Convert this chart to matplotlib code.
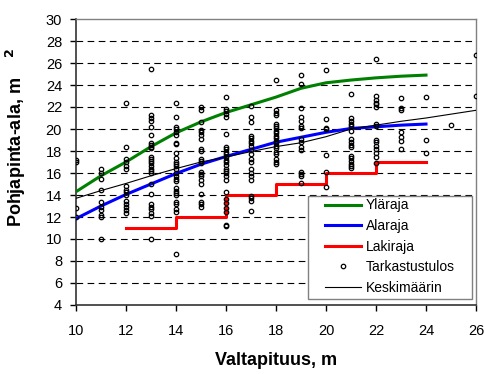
import matplotlib
matplotlib.use("Agg")
import matplotlib.pyplot as plt
from matplotlib.patches import Rectangle

plt.rcParams['font.family'] = ['Liberation Sans', 'DejaVu Sans']

# --- data ---
line_x = [10, 11, 12, 13, 14, 15, 16, 17, 18, 19, 20, 21, 22, 23, 24]
ylaraja = [14.3, 15.75, 17.0, 18.4, 19.65, 20.65, 21.5, 22.2, 22.9, 23.7, 24.2, 24.45, 24.65, 24.8, 24.9]
alaraja = [11.85, 13.0, 14.05, 15.0, 15.95, 16.8, 17.5, 18.15, 18.8, 19.25, 19.7, 20.05, 20.2, 20.35, 20.45]

laki_x = [12, 14, 16, 18, 20, 22, 24]
laki_y = [11, 12, 14, 15, 16, 17, 17]

kesk_x = [10, 11, 12, 13, 14, 15, 16, 17, 18, 19, 20, 21, 22, 23, 24, 25, 26]
kesk_y = [13.7, 14.4, 15.05, 15.75, 16.4, 17.0, 17.45, 17.95, 18.4, 18.75, 19.3, 20.0, 20.35, 20.7, 21.0, 21.35, 21.7]

obs = {
    10: [17.2, 17.0, 12.85, 12.0],
    11: [16.4, 16.0, 15.5, 14.5, 13.4, 12.9, 12.6, 12.2, 12.0, 10.0],
    12: [22.4, 18.4, 17.3, 17.0, 16.6, 16.4, 14.8, 14.5, 14.3, 14.0, 13.5, 13.2, 12.9, 12.6, 12.4],
    13: [25.5, 21.3, 21.0, 20.7, 20.2, 19.45, 18.75, 18.55, 18.4, 18.25, 17.5, 17.3, 17.1, 16.9,
         16.6, 16.4, 16.2, 16.0, 15.0, 14.05, 13.2, 12.9, 12.7, 12.4, 12.1, 10.0],
    14: [22.4, 21.1, 20.15, 20.0, 19.7, 19.5, 18.75, 18.6, 17.8, 17.4, 17.0, 16.8, 16.6, 16.4,
         16.0, 15.7, 15.5, 15.3, 14.6, 14.4, 14.15, 14.0, 13.4, 13.15, 12.7, 12.5, 8.6],
    15: [22.0, 21.7, 20.6, 19.9, 19.75, 19.45, 19.05, 18.15, 18.0, 17.3, 17.1, 16.95, 16.1, 15.9,
         15.7, 15.4, 15.0, 14.1, 13.4, 13.2, 12.95],
    16: [22.9, 21.8, 21.6, 21.4, 21.1, 19.55, 18.4, 18.2, 17.95, 17.7, 17.5, 17.2, 17.0, 16.7,
         16.4, 16.2, 16.0, 15.7, 15.4, 14.3, 13.6, 13.25, 12.8, 12.5, 11.3, 11.2],
    17: [22.1, 21.05, 20.6, 19.35, 19.15, 18.95, 18.7, 18.45, 18.1, 17.7, 17.3, 17.0, 16.4, 16.0,
         15.7, 15.4, 13.9, 13.7, 13.5, 12.55],
    18: [24.5, 21.7, 21.5, 21.3, 20.5, 20.3, 20.05, 19.85, 19.6, 19.35, 19.15, 18.95, 18.7, 18.45,
         18.25, 17.95, 17.7, 17.25, 17.0, 16.8],
    19: [24.9, 24.05, 21.95, 21.05, 20.75, 20.3, 20.05, 19.05, 18.8, 18.35, 18.05, 16.1, 15.9, 15.75, 15.1],
    20: [25.35, 20.9, 20.1, 20.0, 17.6, 16.05, 14.75],
    21: [23.15, 21.0, 20.75, 20.45, 20.3, 19.85, 19.05, 18.85, 18.55, 18.35, 17.55, 17.35, 17.1,
         16.8, 16.6, 16.5],
    22: [26.4, 23.0, 22.65, 22.4, 22.25, 22.0, 20.45, 20.3, 19.0, 18.8, 18.45, 18.2, 17.85, 17.5, 16.95],
    23: [22.8, 21.9, 21.7, 19.7, 19.3, 18.95, 18.2],
    24: [22.9, 19.0, 17.8],
    25: [20.4],
    26: [26.75, 23.0],
}
obs_x = [k for k, v in obs.items() for _ in v]
obs_y = [y for v in obs.values() for y in v]

x_ticks = [10, 12, 14, 16, 18, 20, 22, 24, 26]
y_ticks = [4, 6, 8, 10, 12, 14, 16, 18, 20, 22, 24, 26, 28, 30]

fig = plt.figure(figsize=(4.84, 3.74), dpi=100)
ax = fig.add_axes([76 / 484, 69 / 374, 400 / 484, 286 / 374])

for yv in y_ticks[1:-1]:
    ax.axhline(yv, color='black', lw=0.8, dashes=(6, 4), zorder=0)

ax.plot(line_x, ylaraja, color='#008000', lw=2.2, label='Yläraja', zorder=3)
ax.plot(line_x, alaraja, color='#0000ff', lw=2.2, label='Alaraja', zorder=3)
ax.step(laki_x, laki_y, where='post', color='#ff0000', lw=2.2, label='Lakiraja', zorder=3)
ax.plot(obs_x, obs_y, ls='none', marker='o', ms=3.2, mfc='none', mec='black', mew=0.9,
        label='Tarkastustulos', zorder=4)
ax.plot(kesk_x, kesk_y, color='black', lw=0.8, label='Keskimäärin', zorder=3)

ax.set_xlim(10, 26)
ax.set_ylim(4, 30)
ax.set_xticks(x_ticks)
ax.set_yticks(y_ticks)
ax.tick_params(axis='both', direction='out', length=4, width=1, labelsize=10.5, colors='black')
ax.tick_params(axis='x', pad=10)
ax.tick_params(axis='y', pad=6)

for s in ['top', 'right']:
    ax.spines[s].set_color('#808080')
    ax.spines[s].set_linewidth(1)
for s in ['left', 'bottom']:
    ax.spines[s].set_color('#333333')
    ax.spines[s].set_linewidth(1.2)

ax.set_xlabel('Valtapituus, m', fontsize=13, fontweight='bold', labelpad=10)
ax.set_ylabel(r'Pohjapinta-ala, m    $\mathbf{^2}$', fontsize=13, fontweight='bold')
ax.yaxis.set_label_coords(-0.12, 0.585)

# legend box (drawn separately so the padding can differ per side)
box = Rectangle((0.58, 0.021), 0.41, 0.36, transform=ax.transAxes, facecolor='white',
                edgecolor='#808080', lw=1, zorder=5)
ax.add_patch(box)
leg = ax.legend(loc='center left', bbox_to_anchor=(0.6225, 0.2045), fontsize=10,
                frameon=False, handlelength=2.6, handletextpad=0.36,
                labelspacing=0.47, borderpad=0, borderaxespad=0)
leg.set_zorder(6)

fig.savefig('out.png', dpi=100)
